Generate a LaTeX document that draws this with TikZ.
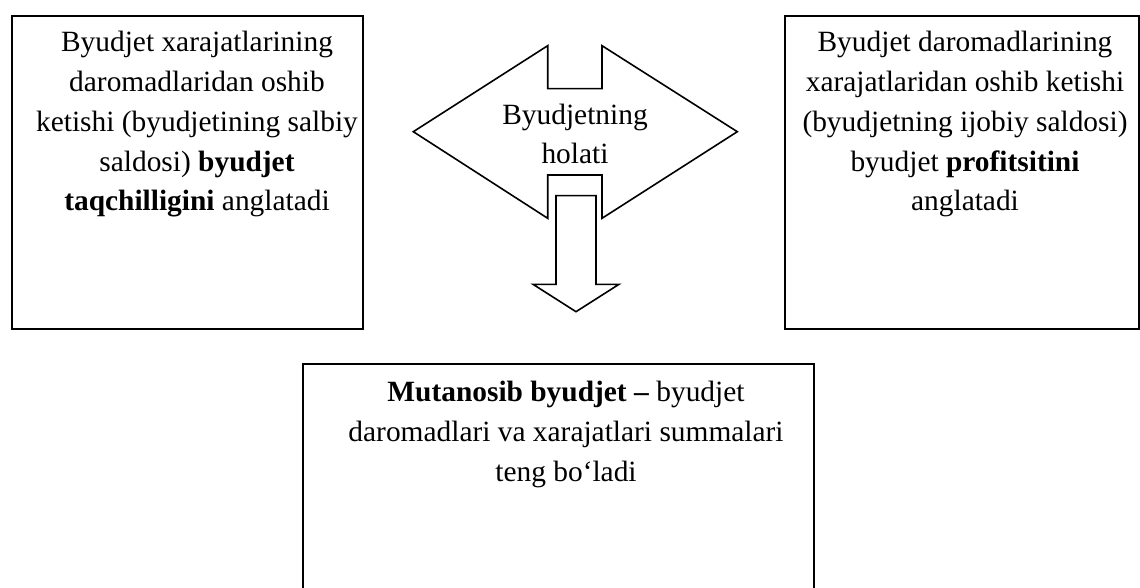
\documentclass[tikz,border=0pt]{standalone}
\usepackage{fontspec}
\setmainfont{Liberation Serif}
\begin{document}
\begin{tikzpicture}[x=1pt,y=-1pt,
  box/.style={draw, line width=1.8pt, inner sep=0pt, anchor=north west},
  % anchor=base sits on the baseline of the last line
  txt/.style={align=center, inner sep=0pt, anchor=base, font=\fontsize{29.4}{39.8}\selectfont},
  blockarrow/.style={draw, line width=1.6pt, line join=miter}]
\useasboundingbox (0,0) rectangle (1140,588);

% three text boxes
\node[box, minimum width=351pt, minimum height=313pt] (left) at (11,15) {};
\node[box, minimum width=354pt, minimum height=313pt] (right) at (784,15) {};
\node[box, minimum width=511pt, minimum height=300pt] (bottom) at (302,363) {};

% double-headed block arrow with notches
\draw[blockarrow] (413.3,131.7) -- (547.7,45.7) -- (547.7,88.7) -- (602,88.7)
  -- (602,45.7) -- (737.3,131.7) -- (602,218.3) -- (602,175) -- (547.7,175)
  -- (547.7,218.3) -- cycle;

% downward block arrow
\draw[blockarrow] (556,195.7) -- (596,195.7) -- (596,284.3) -- (619,284.3)
  -- (576,311.7) -- (533,284.3) -- (556,284.3) -- cycle;

% texts
\node[txt] (ltext) at (197,210.8) {Byudjet xarajatlarining\\daromadlaridan oshib\\ketishi (byudjetining salbiy\\saldosi) \textbf{byudjet}\\\textbf{taqchilligini} anglatadi};
\node[txt] (rtext) at (965,210.8) {Byudjet daromadlarining\\xarajatlaridan oshib ketishi\\(byudjetning ijobiy saldosi)\\byudjet \textbf{profitsitini}\\anglatadi};
\node[txt, font=\fontsize{29.4}{39}\selectfont] (atext) at (575,164) {Byudjetning\\holati};
\node[txt, font=\fontsize{29.4}{40}\selectfont] (btext) at (566,481.7) {\textbf{Mutanosib byudjet –} byudjet\\daromadlari va xarajatlari summalari\\teng bo‘ladi};
\end{tikzpicture}
\end{document}
